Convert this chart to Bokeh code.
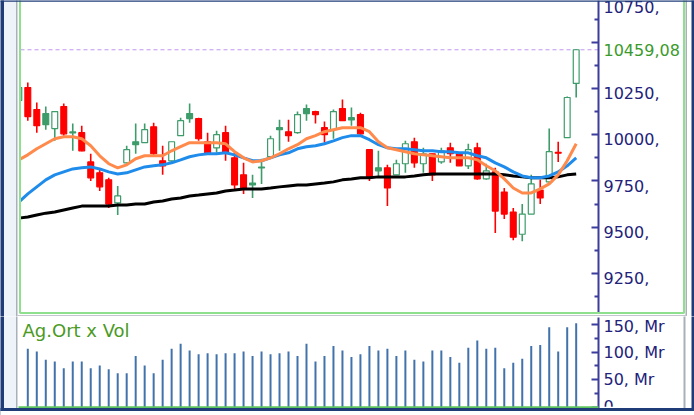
import numpy as np
from bokeh.plotting import figure
from bokeh.layouts import column
from bokeh.models import (ColumnDataSource, LinearAxis, FixedTicker, BoxAnnotation,
                          Label, Range1d)
from bokeh.embed import file_html
from bokeh.resources import INLINE

# ---------------- data ----------------
first_index = -1  # the first candle is only partly visible at the left edge
opens = [10185, 10255, 10136, 10114, 10033, 10152, 10015, 10011, 9853, 9794,
         9756, 9631, 9848, 9962, 9957, 10043, 9859, 9859, 9995, 10114,
         10087, 9962, 9929, 10011, 9875, 9783, 9739, 9820, 9881, 10038,
         10016, 10011, 10141, 10125, 10038, 10027, 10141, 10092, 10109, 9919,
         9821, 9821, 9783, 9843, 9962, 9843, 9897, 9853, 9929, 9897,
         9832, 9929, 9761, 9799, 9690, 9582, 9462, 9571, 9701, 9745,
         9905, 9984, 10277]
highs = [10266, 10282, 10174, 10152, 10125, 10168, 10060, 10049, 9897, 9815,
         9767, 9723, 9940, 10060, 10060, 10065, 9940, 9962, 10092, 10168,
         10092, 10011, 10022, 10049, 9902, 9848, 9783, 9870, 9995, 10081,
         10081, 10125, 10163, 10130, 10071, 10136, 10190, 10147, 10119, 9919,
         9913, 9837, 9864, 9967, 9984, 9929, 9897, 9929, 9957, 9897,
         9951, 9957, 9843, 9821, 9712, 9604, 9625, 9783, 9756, 10033,
         9962, 10206, 10462]
lows = [10174, 10076, 10011, 10027, 9967, 9995, 9913, 9910, 9750, 9696,
        9604, 9566, 9843, 9897, 9957, 9886, 9783, 9848, 9995, 10065,
        9967, 9897, 9902, 9859, 9696, 9680, 9658, 9734, 9875, 9913,
        9962, 10005, 10076, 10060, 9957, 9978, 10076, 10049, 9995, 9750,
        9772, 9614, 9783, 9794, 9821, 9794, 9750, 9843, 9848, 9832,
        9815, 9756, 9756, 9468, 9544, 9430, 9424, 9571, 9625, 9739,
        9853, 9984, 10201]
closes = [10255, 10098, 10049, 10054, 10125, 10005, 10010, 9913, 9767, 9718,
          9625, 9669, 9919, 9946, 10027, 9897, 9832, 9962, 10076, 10087,
          9978, 9902, 10000, 9902, 9728, 9712, 9728, 9825, 9978, 10027,
          9995, 10109, 10114, 10109, 10000, 10125, 10076, 10080, 10005, 9772,
          9805, 9712, 9843, 9951, 9848, 9897, 9783, 9913, 9897, 9832,
          9919, 9761, 9805, 9587, 9571, 9446, 9571, 9734, 9658, 9908,
          9900, 10201, 10459.08]
ma_orange = [9864, 9891, 9924, 9951, 9978, 9989, 9989, 9978, 9940, 9886,
             9843, 9821, 9837, 9870, 9886, 9886, 9886, 9913, 9935, 9957,
             9957, 9957, 9957, 9951, 9908, 9875, 9853, 9859, 9875, 9897,
             9924, 9946, 9978, 9995, 10016, 10027, 10038, 10038, 10038, 10016,
             9962, 9929, 9919, 9908, 9897, 9891, 9886, 9881, 9875, 9875,
             9875, 9864, 9832, 9805, 9761, 9712, 9685, 9685, 9707, 9734,
             9783, 9859, 9951]
ma_blue = [9636, 9680, 9718, 9756, 9783, 9799, 9815, 9821, 9826, 9815,
           9799, 9788, 9794, 9810, 9826, 9832, 9837, 9848, 9864, 9881,
           9891, 9897, 9897, 9902, 9891, 9875, 9859, 9859, 9875, 9891,
           9902, 9924, 9935, 9940, 9951, 9967, 9984, 9995, 9995, 9973,
           9946, 9929, 9924, 9924, 9919, 9913, 9913, 9908, 9908, 9902,
           9902, 9886, 9875, 9848, 9826, 9799, 9777, 9767, 9767, 9777,
           9799, 9832, 9875]
ma_black = [9549, 9555, 9566, 9576, 9582, 9593, 9604, 9614, 9614, 9614,
            9614, 9620, 9620, 9625, 9625, 9636, 9642, 9652, 9658, 9669,
            9674, 9680, 9685, 9696, 9701, 9707, 9707, 9707, 9712, 9718,
            9723, 9728, 9728, 9734, 9739, 9745, 9756, 9761, 9767, 9767,
            9772, 9772, 9772, 9772, 9777, 9783, 9788, 9788, 9788, 9788,
            9788, 9788, 9788, 9788, 9783, 9777, 9772, 9767, 9767, 9767,
            9772, 9783, 9788]
volumes_mr = [106, 101, 86, 83, 71, 83, 83, 71, 76, 69,
              62, 62, 93, 76, 62, 86, 106, 115, 103, 96,
              98, 96, 98, 98, 101, 93, 101, 96, 98, 101,
              93, 115, 83, 93, 111, 103, 91, 96, 111, 103,
              106, 93, 103, 86, 83, 103, 103, 91, 81, 108,
              121, 106, 108, 71, 81, 88, 111, 113, 145, 101,
              145, 152]  # starts at candle index 0
price_ticks = [9250, 9500, 9750, 10000, 10250, 10500, 10750]
price_minor = [9125, 9375, 9625, 9875, 10125, 10375, 10625]
vol_ticks = [0, 50, 100, 150]
vol_minor = [25, 75, 125]
last_price_text = "10459,08"
vol_title = "Ag.Ort x Vol"

# ---------------- layout geometry ----------------
W, H1, H2 = 694, 316, 99
STEP, X0 = 8.99, 27.3          # px per candle, px of candle 0
PPU, PY10K = 0.185, 134.2       # px per price unit, px of 10000
VPPU, VY0 = 0.554, 91.0         # px per Mr, local px of 0 in volume panel
LABEL_DROP = 25                 # price labels sit a few px below their ticks


def xd(px):
    return (px - X0) / STEP


def yp(py):
    return 10000 + (PY10K - py) / PPU


def yv(py):
    return (VY0 - (py - H1)) / VPPU


NAVY = "#1f3c78"
PALE = "#eef3f9"
SEP = "#a9b0b9"
GBOX = "#8ee08e"
AXC = "#3c3c9c"
AXL = "#22227a"
UP = "#3d9c6a"
DOWN = "#ff0000"
FONT = "DejaVu Sans"

# ---------------- price panel ----------------
x = np.arange(len(opens)) + first_index
o = np.array(opens, float)
c = np.array(closes, float)
prev = np.concatenate([[c[0]], c[:-1]])
colors = [UP if (i == 0 or c[i] >= prev[i]) else DOWN for i in range(len(c))]
fills = [colors[i] if c[i] < o[i] else "white" for i in range(len(c))]
src = ColumnDataSource(dict(x=x, h=highs, l=lows, top=np.maximum(o, c),
                            bottom=np.minimum(o, c), color=colors, fill=fills))

p = figure(width=W, height=H1, x_range=Range1d(xd(0), xd(W)),
           y_range=Range1d(yp(H1), yp(0)), output_backend="svg",
           toolbar_location=None, x_axis_type=None, y_axis_type=None,
           min_border=0, outline_line_color=None)
p.background_fill_color = "white"
p.border_fill_color = "white"

last = closes[-1]
p.segment(x0=[xd(20)], x1=[xd(598)], y0=[last], y1=[last], line_color="#c096f2",
          line_width=1, line_dash="4 3")
p.segment(x0="x", y0="h", x1="x", y1="l", line_color="color", line_width=1.6, source=src)
p.vbar(x="x", width=0.65, top="top", bottom="bottom", fill_color="fill",
       line_color="color", line_width=1.2, source=src)
p.line(x, ma_black, line_color="black", line_width=3)
p.line(x, ma_blue, line_color="#1f8ceb", line_width=3)
p.line(x, ma_orange, line_color="#ff8a4c", line_width=3)

axis_style = dict(axis_line_color=AXC, axis_line_width=2,
                  major_tick_in=7, major_tick_out=0, minor_tick_in=4, minor_tick_out=0,
                  major_tick_line_color=AXC, minor_tick_line_color=AXC,
                  major_tick_line_width=2, minor_tick_line_width=2,
                  major_label_text_font=FONT, major_label_text_font_size="16px",
                  major_label_text_color=AXL, major_label_standoff=5)

# ticks and rule (labels come from the second axis below)
ax = LinearAxis(fixed_location=xd(598),
                ticker=FixedTicker(ticks=price_ticks, minor_ticks=price_minor),
                major_label_overrides={t: "" for t in price_ticks},
                bounds=(yp(313), yp(0)), **axis_style)
p.add_layout(ax, "right")
# labels (drawn slightly below their ticks, as in the original)
lab_ticks = [t - LABEL_DROP for t in price_ticks]
overrides = {t - LABEL_DROP: (f"{t}," if abs(t - last) > 60 else "") for t in price_ticks}
ax_lab = LinearAxis(fixed_location=xd(598), ticker=FixedTicker(ticks=lab_ticks, minor_ticks=[]),
                    major_label_overrides=overrides, **axis_style)
ax_lab.axis_line_alpha = 0
ax_lab.major_tick_line_alpha = 0
ax_lab.minor_tick_line_alpha = 0
p.add_layout(ax_lab, "right")

p.add_layout(Label(x=xd(603), y=last, text=last_price_text, text_font=FONT,
                   text_font_size="16px", text_color="#3a9a2c", text_baseline="middle",
                   background_fill_color="white"))


def box(fig, l, r, t, b, fill=None, line=None, lw=1, ymap=yp):
    fig.add_layout(BoxAnnotation(left=xd(l), right=xd(r), top=ymap(t), bottom=ymap(b),
                                 fill_color=fill if fill else "white",
                                 fill_alpha=1 if fill else 0,
                                 line_color=line, line_width=lw, line_alpha=1 if line else 0))


box(p, -2, 19, -5, H1 + 5, fill="white")
box(p, -2, 3.5, -5, H1 + 5, fill=NAVY)
box(p, 3.5, 15.5, -5, H1 + 5, fill=PALE)
box(p, 15.5, 17, -5, H1 + 5, fill=SEP)
box(p, 19.5, 683.5, -5, 312.5, line=GBOX, lw=2)
box(p, 685, 686.5, -5, H1 + 5, fill=SEP)
box(p, 691, W + 2, -5, H1 + 5, fill=NAVY)
box(p, -2, W + 2, -5, 1.2, fill=NAVY)
box(p, 17, 686, 314.6, 316.5, fill="#c3c7cd")

# ---------------- volume panel ----------------
vx = np.arange(len(volumes_mr))
v = figure(width=W, height=H2, x_range=p.x_range,
           y_range=Range1d(yv(H1 + H2), yv(H1)), output_backend="svg",
           toolbar_location=None, x_axis_type=None, y_axis_type=None,
           min_border=0, outline_line_color=None)
v.background_fill_color = "white"
v.border_fill_color = "white"
v.segment(x0=vx, x1=vx, y0=np.zeros(len(vx)), y1=volumes_mr, line_color="#4172ab",
          line_width=2)

vax = LinearAxis(fixed_location=xd(598),
                 ticker=FixedTicker(ticks=vol_ticks, minor_ticks=vol_minor),
                 major_label_overrides={t: (f"{t}, Mr" if t else "0") for t in vol_ticks},
                 bounds=(yv(410), yv(317)), **axis_style)
v.add_layout(vax, "right")

v.add_layout(Label(x=xd(22), y=yv(330), text=vol_title, text_font=FONT,
                   text_font_size="18px", text_color="#4a9a24", text_baseline="middle"))

box(v, -2, 3.5, H1 - 5, 420, fill=NAVY, ymap=yv)
box(v, 3.5, 15.5, H1 - 5, 420, fill=PALE, ymap=yv)
box(v, 15.5, 17, H1 - 5, 420, fill=SEP, ymap=yv)
box(v, 600, 683, 406.2, 407.6, fill="white", ymap=yv)
box(v, 683, 685, H1 - 5, 420, fill=SEP, ymap=yv)
box(v, 691, W + 2, H1 - 5, 420, fill=NAVY, ymap=yv)
box(v, 18, 598, 405.8, 407.6, fill="#5cc45c", ymap=yv)
box(v, -2, W + 2, 407.6, 410.6, fill=NAVY, ymap=yv)
box(v, -2, W + 2, 410.6, 420, fill="white", ymap=yv)

layout = column(p, v, spacing=0)
open("out.html", "w").write(file_html(layout, INLINE))
